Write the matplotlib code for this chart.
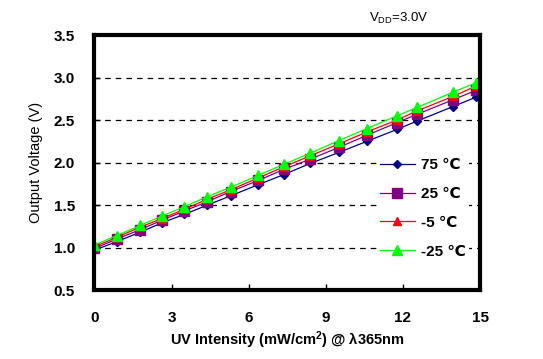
import matplotlib
matplotlib.use("Agg")
import matplotlib.pyplot as plt

plt.rcParams['font.family'] = ['Liberation Sans', 'DejaVu Sans']
plt.rcParams['mathtext.fontset'] = 'custom'
plt.rcParams['mathtext.rm'] = 'Liberation Sans'
plt.rcParams['mathtext.it'] = 'Liberation Sans'
plt.rcParams['mathtext.bf'] = 'Liberation Sans:bold'

intensity = [0, 0.86, 1.77, 2.61, 3.49, 4.39, 5.30, 6.37, 7.37, 8.39, 9.51, 10.59, 11.76, 12.56, 13.95, 14.84]
v_75 = [0.97, 1.07, 1.18, 1.29, 1.39, 1.50, 1.61, 1.74, 1.86, 1.99, 2.12, 2.25, 2.39, 2.49, 2.66, 2.77]
v_25 = [0.99, 1.10, 1.21, 1.32, 1.43, 1.54, 1.66, 1.79, 1.92, 2.04, 2.18, 2.32, 2.47, 2.57, 2.74, 2.85]
v_m5 = [1.01, 1.12, 1.24, 1.34, 1.45, 1.57, 1.68, 1.82, 1.95, 2.08, 2.22, 2.36, 2.50, 2.61, 2.78, 2.90]
v_m25 = [1.03, 1.14, 1.26, 1.37, 1.48, 1.60, 1.71, 1.85, 1.98, 2.11, 2.26, 2.40, 2.55, 2.65, 2.83, 2.94]
labels = ['75 ℃', '25 ℃', '-5 ℃', '-25 ℃']
x_ticks = [0, 3, 6, 9, 12, 15]
y_ticks = [0.5, 1.0, 1.5, 2.0, 2.5, 3.0, 3.5]

fig = plt.figure(figsize=(5.43, 3.59), dpi=100)
ax = fig.add_axes([0.174, 0.192, 0.71, 0.71])

for y in y_ticks[1:-1]:
    ax.axhline(y, color='black', lw=0.9, dashes=(4.5, 4.0), zorder=1)

ax.plot(intensity, v_75, color='#000080', lw=0.9, marker='D', ms=3.6, label=labels[0], zorder=3)
ax.plot(intensity, v_25, color='#800080', lw=0.9, marker='s', ms=7.5, label=labels[1], zorder=4)
ax.plot(intensity, v_m5, color='#FF0000', lw=0.9, marker='^', ms=5.5, label=labels[2], zorder=5)
ax.plot(intensity, v_m25, color='#00FF00', lw=0.9, marker='^', ms=7, label=labels[3], zorder=6)

ax.set_xlim(0, 15)
ax.set_ylim(0.5, 3.5)
ax.set_xticks(x_ticks)
ax.set_yticks(y_ticks)
ax.set_xticklabels([str(t) for t in x_ticks], fontsize=11, fontweight='bold')
ax.set_yticklabels([f"{t:.1f}" for t in y_ticks], fontsize=11, fontweight='bold')
ax.tick_params(direction='in', length=4, width=1)
ax.tick_params(axis='x', pad=15)
ax.tick_params(axis='y', pad=14)
for s in ax.spines.values():
    s.set_linewidth(3)
    s.set_zorder(10)

ax.set_xlabel('UV Intensity (mW/cm$^{\\bf 2}$) @ λ365nm', fontsize=10.5, fontweight='bold', labelpad=3)
ax.set_ylabel('Output Voltage (V)', fontsize=10.5, labelpad=8)

fig.text(0.68, 0.948, r'V$_{\rm DD}$=3.0V', fontsize=9.5, ha='left', va='center')

leg = ax.legend(loc='upper left', bbox_to_anchor=(0.712, 0.56), frameon=True, fancybox=False,
                edgecolor='none', facecolor='white', framealpha=1,
                prop={'weight': 'bold', 'size': 11}, handlelength=2.3, handletextpad=0.4,
                labelspacing=0.97, borderpad=0.2)
leg.set_zorder(8)

fig.savefig('out.png', dpi=100)
